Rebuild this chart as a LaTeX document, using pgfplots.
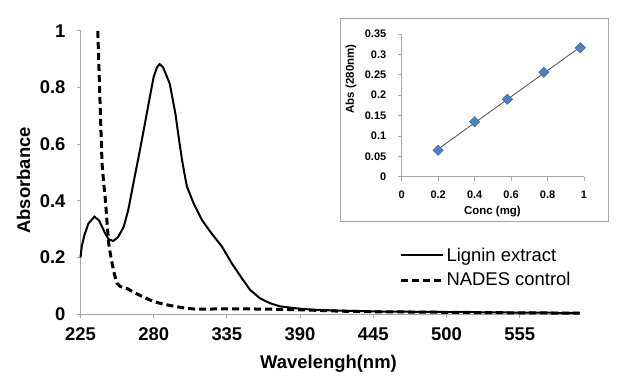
\documentclass[border=0pt]{standalone}
\usepackage{fontspec}
\setmainfont{Liberation Sans}
\usepackage{pgfplots}
\usepackage{pgfplotstable}
\pgfplotsset{compat=1.18}
\definecolor{axgray}{HTML}{A6A6A6}
\definecolor{mblue}{HTML}{4F81BD}

\pgfplotstableread{
x y
225 0.2
226 0.24
228 0.28
231 0.32
235.5 0.344
239 0.33
243 0.29
246 0.265
249.5 0.258
253 0.27
257.5 0.308
261 0.37
265.5 0.48
268.7 0.556
272.5 0.65
276.2 0.744
280 0.838
282.5 0.872
284.5 0.883
287 0.872
292 0.815
296.3 0.709
298.7 0.627
301.3 0.544
303.75 0.48
305 0.45
310 0.391
316.3 0.332
322.5 0.291
331.3 0.238
338.7 0.179
346.3 0.126
352.5 0.085
360 0.055
367.5 0.038
375 0.027
387 0.02
400 0.015
420 0.012
445 0.009
500 0.007
555 0.005
600 0.004
}\lignin

\pgfplotstableread{
x y
238 1.0
239 0.85
240 0.7
241.2 0.53
242.5 0.46
243.7 0.403
245 0.32
246.2 0.25
247.5 0.21
248.7 0.18
250.5 0.14
252.5 0.108
255 0.097
260 0.09
265 0.077
270 0.065
275 0.054
280 0.044
287 0.035
297 0.026
305 0.02
312 0.017
330 0.018
350 0.018
370 0.017
390 0.015
420 0.01
445 0.008
500 0.006
555 0.004
600 0.003
}\nades

\pgfplotstableread{
x y
0.2 0.065
0.4 0.135
0.58 0.19
0.78 0.256
0.98 0.316
}\calib

\begin{document}
\begin{tikzpicture}[x=1bp,y=1bp]
\path[use as bounding box] (0,0) rectangle (620,381);
\begin{axis}[
  at={(80.5bp,67bp)}, anchor=south west,
  scale only axis, width=499bp, height=283bp,
  xmin=225, xmax=600, ymin=0, ymax=1,
  axis x line*=bottom, axis y line*=left,
  axis line style={axgray, line width=1bp},
  xtick={225,280,335,390,445,500,555},
  ytick={0,0.2,0.4,0.6,0.8,1},
  tick align=outside, major tick length=4bp,
  tick style={axgray, line width=1bp},
  /pgf/number format/assume math mode=true,
  ticklabel style={font=\fontsize{18.5}{20}\selectfont\bfseries},
  xticklabel style={yshift=-6bp},
  yticklabel style={xshift=-7.5bp},
  xlabel={Wavelengh(nm)}, ylabel={Absorbance},
  label style={font=\fontsize{18.5}{20}\selectfont\bfseries},
  xlabel style={at={(axis description cs:0.497,-0.177)}, anchor=center},
  ylabel style={at={(axis description cs:-0.114,0.472)}, anchor=center},
  clip=false,
  legend style={at={(axis description cs:0.639,0.164)}, anchor=west,
    draw=none, fill=none, font=\fontsize{18.5}{20}\selectfont,
    inner sep=0pt, row sep=6bp, cells={anchor=west}},
  legend image code/.code={\draw[#1] (0bp,0bp) -- (42bp,0bp);},
]
\addplot[black, line width=2bp] table {\lignin};
\addlegendentry{Lignin extract}
\addplot[black, line width=3bp, dash pattern=on 7bp off 4bp] table {\nades};
\addlegendentry{NADES control}
\end{axis}

\fill[white] (340,160) rectangle (608,362);
\draw[axgray, line width=1bp] (340,160) rectangle (608,362);
\begin{axis}[
  at={(401.7bp,204.3bp)}, anchor=south west,
  scale only axis, width=182.3bp, height=142.7bp,
  xmin=0, xmax=1, ymin=0, ymax=0.35,
  axis x line*=bottom, axis y line*=left,
  axis line style={axgray, line width=0.8bp},
  xtick={0,0.2,0.4,0.6,0.8,1},
  ytick={0,0.05,0.1,0.15,0.2,0.25,0.3,0.35},
  tick align=outside, major tick length=4bp,
  tick style={axgray, line width=0.8bp},
  /pgf/number format/.cd, fixed, precision=2, assume math mode=true, /pgfplots/.cd,
  ticklabel style={font=\fontsize{11}{12}\selectfont\bfseries},
  xticklabel style={yshift=-6.5bp},
  yticklabel style={xshift=-8bp},
  xlabel={Conc (mg)}, ylabel={Abs (280nm)},
  label style={font=\fontsize{11.5}{12}\selectfont\bfseries},
  xlabel style={at={(axis description cs:0.498,-0.245)}, anchor=center},
  ylabel style={at={(axis description cs:-0.278,0.685)}, anchor=center},
  clip=false,
]
\addplot[no marks, draw=black!70, line width=0.8bp] table[y={create col/linear regression={y=y}}] {\calib};
\addplot[only marks, mark=square*, mark size=3.7bp, mark options={rotate=45, fill=mblue, draw=mblue!80!black, line width=0.4bp}] table {\calib};
\end{axis}
\end{tikzpicture}
\end{document}
